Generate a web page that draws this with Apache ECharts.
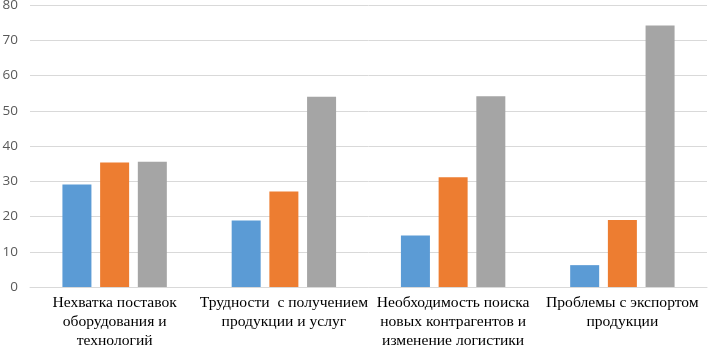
<!DOCTYPE html>
<html>
<head>
<meta charset="utf-8">
<script src="https://cdn.jsdelivr.net/npm/echarts@6/dist/echarts.min.js"></script>
<style>
  html, body { margin: 0; padding: 0; background: #fff; }
  #chart { width: 708px; height: 346px; }
</style>
</head>
<body>
<div id="chart"></div>
<script>
// categories along the x axis
const categories = [
  'Нехватка поставок\nоборудования и\nтехнологий',
  'Трудности  с получением\nпродукции и услуг',
  'Необходимость поиска\nновых контрагентов и\nизменение логистики',
  'Проблемы с экспортом\nпродукции'
]
// three unnamed series (blue / orange / grey)
const seriesA = [29.1, 18.9, 14.6, 6.2]
const seriesB = [35.3, 27.1, 31.1, 19.0]
const seriesC = [35.5, 54.0, 54.1, 74.2]
const yTicks = { min: 0, max: 80, interval: 10 }

const colors = ['#5B9BD5', '#ED7D31', '#A5A5A5']

const chart = echarts.init(document.getElementById('chart'), null, { renderer: 'canvas' })

chart.setOption({
  animation: false,
  grid: {
    left: 30,
    right: 1,
    top: 5,
    bottom: 59,
    outerBoundsMode: 'none',
    containLabel: false
  },
  xAxis: {
    type: 'category',
    data: categories,
    axisLine: { lineStyle: { color: '#D9D9D9', width: 1 } },
    axisTick: { show: false },
    axisLabel: {
      interval: 0,
      color: '#000',
      fontFamily: '"Liberation Serif", "Times New Roman", serif',
      fontSize: 15.6,
      lineHeight: 19,
      margin: 6
    }
  },
  yAxis: {
    type: 'value',
    min: yTicks.min,
    max: yTicks.max,
    interval: yTicks.interval,
    axisLine: { show: false },
    axisTick: { show: false },
    splitLine: { lineStyle: { color: '#D9D9D9', width: 1 } },
    axisLabel: {
      color: '#595959',
      fontFamily: '"Open Sans", "Noto Sans", sans-serif',
      fontSize: 13.5,
      margin: 12
    }
  },
  series: [
    { type: 'bar', data: seriesA, barWidth: 29, barGap: '30%', itemStyle: { color: colors[0] } },
    { type: 'bar', data: seriesB, barWidth: 29, barGap: '30%', itemStyle: { color: colors[1] } },
    { type: 'bar', data: seriesC, barWidth: 29, barGap: '30%', itemStyle: { color: colors[2] } }
  ]
})
</script>
</body>
</html>
